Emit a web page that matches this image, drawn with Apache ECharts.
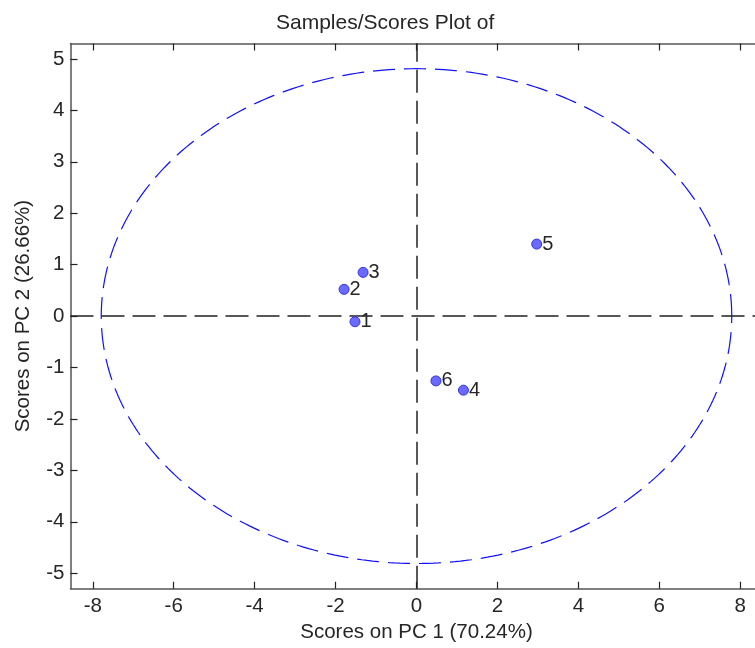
<!DOCTYPE html>
<html>
<head>
<meta charset="utf-8">
<script src="https://cdn.jsdelivr.net/npm/echarts@6/dist/echarts.min.js"></script>
<style>
  html, body { margin: 0; padding: 0; background: #fff; }
  #chart { width: 755px; height: 648px; }
</style>
</head>
<body>
<div id="chart"></div>
<script>
// sample scores
var sampleNames = ["1", "2", "3", "4", "5", "6"];
var pc1Scores = [-1.52, -1.79, -1.32, 1.16, 2.97, 0.48];
var pc2Scores = [-0.11, 0.52, 0.85, -1.44, 1.40, -1.26];

// 95% confidence ellipse semi-axes
var ellipseRadiusX = [7.79];
var ellipseRadiusY = [4.81];

var xTicks = [-8, -6, -4, -2, 0, 2, 4, 6, 8];
var yTicks = [-5, -4, -3, -2, -1, 0, 1, 2, 3, 4, 5];
var xRange = [-8.55, 8.55];
var yRange = [-5.3, 5.3];

var font = "'Liberation Sans', Arial, sans-serif";
var textColor = "#262626";

var points = sampleNames.map(function (n, i) {
  return { value: [pc1Scores[i], pc2Scores[i]], name: n };
});

var ellipse = [];
for (var k = 0; k <= 360; k++) {
  var t = (k / 360) * Math.PI * 2;
  ellipse.push([ellipseRadiusX[0] * Math.cos(t), ellipseRadiusY[0] * Math.sin(t)]);
}

function tickStyle(values) {
  return { show: true, inside: true, length: 7, customValues: values, lineStyle: { color: "#222", width: 1.2 } };
}

function axisBase(extra) {
  var base = {
    type: "value",
    axisLine: { show: true, onZero: false, lineStyle: { color: "#555", width: 1.5 } },
    splitLine: { show: false },
    axisLabel: { show: false }
  };
  return Object.assign(base, extra);
}

var chart = echarts.init(document.getElementById("chart"));
chart.setOption({
  animation: false,
  title: {
    text: "Samples/Scores Plot of",
    left: 271,
    top: 8,
    textStyle: { fontFamily: font, fontSize: 21, fontWeight: "normal", color: textColor }
  },
  // plot box runs past the right edge of the picture, as in the reference
  grid: { left: 70.5, top: 43.5, width: 692, height: 545.2, outerBoundsMode: "none", containLabel: false },
  xAxis: [
    axisBase({
      position: "bottom",
      min: xRange[0],
      max: xRange[1],
      name: "Scores on PC 1 (70.24%)",
      nameLocation: "middle",
      nameGap: 30,
      nameTextStyle: { fontFamily: font, fontSize: 20.5, color: textColor },
      axisTick: tickStyle(xTicks),
      axisLabel: { show: true, customValues: xTicks, margin: 7, fontFamily: font, fontSize: 20.5, color: textColor }
    }),
    axisBase({
      position: "top",
      min: xRange[0],
      max: xRange[1],
      axisTick: tickStyle(xTicks)
    })
  ],
  yAxis: [
    axisBase({
      position: "left",
      min: yRange[0],
      max: yRange[1],
      name: "Scores on PC 2 (26.66%)",
      nameLocation: "middle",
      nameGap: 37,
      nameRotate: 90,
      nameTextStyle: { fontFamily: font, fontSize: 20.5, color: textColor },
      axisTick: tickStyle(yTicks),
      axisLabel: { show: true, customValues: yTicks, margin: 6, fontFamily: font, fontSize: 20.5, color: textColor }
    }),
    axisBase({
      position: "right",
      min: yRange[0],
      max: yRange[1],
      axisTick: tickStyle(yTicks)
    })
  ],
  series: [
    {
      type: "line",
      data: ellipse,
      showSymbol: false,
      symbol: "none",
      silent: true,
      lineStyle: { color: "#1010ff", width: 1.2, type: [22, 9] }
    },
    {
      type: "scatter",
      data: points,
      symbolSize: 10,
      itemStyle: { color: "#6a6aff", borderColor: "#3434e0", borderWidth: 1, opacity: 1 },
      label: {
        show: true,
        position: "right",
        distance: 0,
        formatter: "{b}",
        fontFamily: font,
        fontSize: 20,
        color: textColor
      },
      markLine: {
        silent: true,
        symbol: "none",
        label: { show: false },
        lineStyle: { color: "#222", width: 1.5, type: [23, 8] },
        data: [{ xAxis: 0 }, { yAxis: 0 }]
      },
      z: 5
    }
  ]
});
</script>
</body>
</html>
